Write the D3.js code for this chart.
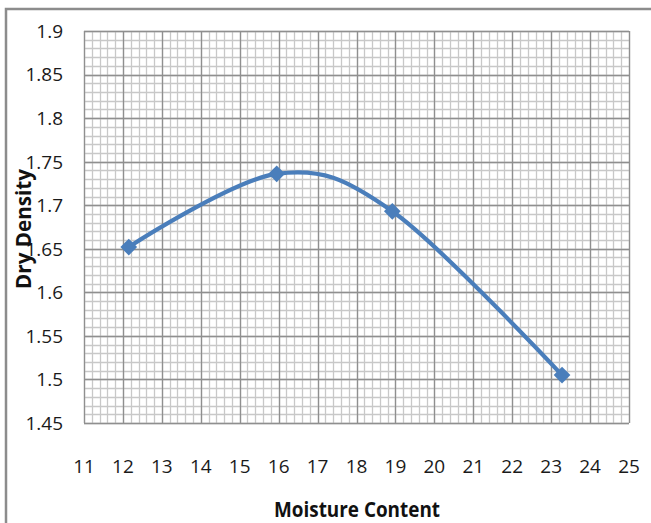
<!DOCTYPE html>
<html><head><meta charset="utf-8">
<script src="https://cdn.jsdelivr.net/npm/d3@7"></script>
<style>
body{margin:0;background:#fff;}
text{font-family:"Open Sans",sans-serif;}
</style></head>
<body><svg id="c" width="651" height="523"></svg>
<script>
const moisture = [12.15, 15.95, 18.92, 23.28];
const dryDensity = [1.652, 1.736, 1.693, 1.505];
const xTicks = [11,12,13,14,15,16,17,18,19,20,21,22,23,24,25];
const yTicks = [1.45,1.5,1.55,1.6,1.65,1.7,1.75,1.8,1.85,1.9];
const xTitle = "Moisture Content";
const yTitle = "Dry Density";

const svg = d3.select("#c");
const L=84, R=629, T=31, B=423;
const x = d3.scaleLinear().domain([11,25]).range([L,R]);
const y = d3.scaleLinear().domain([1.45,1.9]).range([B,T]);

// frame
svg.append("path").attr("d",`M6,523 V9 H651`).attr("fill","none").attr("stroke","#8c8c8c").attr("stroke-width",2.5);

// minor grid
const g = svg.append("g");
const xMinor = d3.range(0,14*5+1).map(i=>11+i*0.2);
const yMinor = d3.range(0,9*5+1).map(i=>1.45+i*0.01);
g.selectAll(".vx").data(xMinor).join("line")
 .attr("x1",d=>Math.round(x(d))+0.5).attr("x2",d=>Math.round(x(d))+0.5).attr("y1",T).attr("y2",B)
 .attr("stroke","#c8c8c8").attr("stroke-width",1.3);
g.selectAll(".hy").data(yMinor).join("line")
 .attr("y1",d=>Math.round(y(d))+0.5).attr("y2",d=>Math.round(y(d))+0.5).attr("x1",L).attr("x2",R)
 .attr("stroke","#c8c8c8").attr("stroke-width",1.3);
// major grid
g.selectAll(".mx").data(xTicks).join("line")
 .attr("x1",d=>Math.round(x(d))+0.5).attr("x2",d=>Math.round(x(d))+0.5).attr("y1",T).attr("y2",B)
 .attr("stroke","#8f8f8f").attr("stroke-width",1.3);
g.selectAll(".my").data(yTicks).join("line")
 .attr("y1",d=>Math.round(y(d))+0.5).attr("y2",d=>Math.round(y(d))+0.5).attr("x1",L).attr("x2",R)
 .attr("stroke","#8f8f8f").attr("stroke-width",1.3);

// tick labels
svg.append("g").selectAll("text").data(yTicks).join("text")
 .attr("x",63).attr("y",d=>y(d)).attr("dy","0.36em").attr("text-anchor","end")
 .attr("font-size",19).attr("fill","#1a1a1a").text(d=>String(d));
svg.append("g").selectAll("text").data(xTicks).join("text")
 .attr("x",d=>x(d)).attr("y",473).attr("text-anchor","middle")
 .attr("font-size",19).attr("fill","#1a1a1a").text(d=>String(d));

// line
const data = moisture.map((m,i)=>[m,dryDensity[i]]);
svg.append("path").datum(data)
 .attr("d",d3.line().x(d=>x(d[0])).y(d=>y(d[1])).curve(d3.curveCardinal.tension(0)))
 .attr("fill","none").attr("stroke","#4a7ebb").attr("stroke-width",4.2);
svg.append("g").selectAll("path").data(data).join("path")
 .attr("transform",d=>`translate(${x(d[0])},${y(d[1])}) rotate(45)`)
 .attr("d",d3.symbol(d3.symbolSquare,140)).attr("fill","#4a7ebb");

// titles
svg.append("text").attr("x",357).attr("y",517).attr("text-anchor","middle")
 .attr("font-size",21).attr("font-weight","bold").attr("fill","#111")
 .attr("textLength",166).attr("lengthAdjust","spacingAndGlyphs").text(xTitle);
svg.append("text").attr("transform","translate(31,229) rotate(-90)").attr("text-anchor","middle")
 .attr("font-size",21).attr("font-weight","bold").attr("fill","#111")
 .attr("textLength",120).attr("lengthAdjust","spacingAndGlyphs").text(yTitle);
</script></body></html>
